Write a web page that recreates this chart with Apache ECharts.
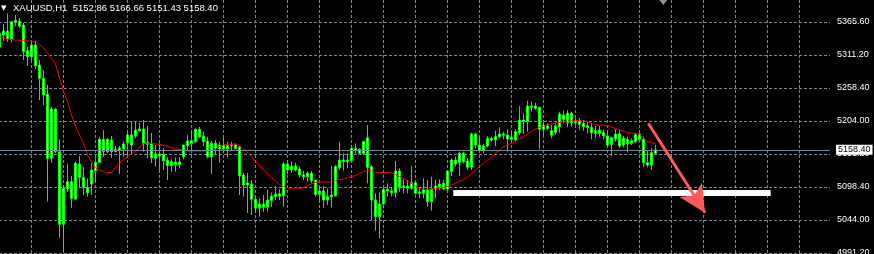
<!DOCTYPE html>
<html><head><meta charset="utf-8">
<script src="https://cdn.jsdelivr.net/npm/echarts@6/dist/echarts.min.js"></script>
<style>html,body{margin:0;padding:0;background:#000;}#c{width:874px;height:254px;}</style>
</head><body><div id="c"></div>
<script>
const symbolName = 'XAUUSD,H1';
// H1 bars, oldest first: [open, close, low, high]
const bars = [
[5325.1,5347.8,5323.5,5352.6],[5351.0,5344.5,5335.3,5362.4],[5338.1,5351.0,5333.7,5379.7],[5337.6,5366.1,5332.1,5367.7],
[5365.6,5368.0,5359.1,5377.0],[5367.2,5359.1,5355.9,5372.1],[5360.7,5317.5,5304.0,5364.5],[5309.4,5319.1,5294.3,5325.6],
[5309.4,5328.3,5304.0,5336.4],[5328.3,5294.8,5289.4,5335.3],[5295.9,5274.4,5239.2,5304.0],[5274.4,5247.3,5231.1,5287.8],
[5248.4,5144.7,5074.3,5263.5],[5144.7,5224.6,5137.1,5228.3],[5224.1,5155.4,5153.3,5226.2],[5155.4,5037.7,5016.0,5175.5],
[5037.7,5096.1,4994.9,5098.7],[5094.9,5106.8,5090.6,5135.4],[5106.8,5079.9,5064.6,5116.0],[5078.7,5136.6,5077.1,5139.2],
[5135.4,5113.9,5097.7,5148.4],[5113.9,5097.7,5085.2,5131.1],[5097.7,5088.9,5082.5,5112.3],[5103.0,5125.7,5085.2,5136.6],
[5124.6,5138.2,5105.1,5144.7],[5138.2,5175.5,5136.6,5179.7],[5175.5,5155.4,5147.3,5190.6],[5155.4,5175.5,5153.3,5177.6],
[5174.4,5155.4,5145.2,5180.8],[5155.4,5159.4,5154.1,5164.6],[5158.1,5161.4,5119.2,5164.7],[5159.8,5167.9,5146.8,5172.7],
[5169.5,5182.5,5145.2,5187.3],[5166.3,5182.5,5150.0,5204.0],[5180.8,5190.6,5177.1,5204.0],[5189.4,5192.2,5187.8,5201.9],
[5192.2,5169.0,5155.4,5206.8],[5170.6,5167.4,5144.7,5197.0],[5169.0,5145.7,5137.1,5185.7],[5144.7,5151.7,5131.1,5166.3],
[5151.7,5148.4,5123.0,5169.0],[5151.2,5140.8,5125.7,5161.4],[5141.9,5132.7,5109.5,5146.3],[5132.7,5139.2,5123.0,5143.1],
[5138.7,5134.3,5123.0,5146.3],[5134.3,5138.7,5128.5,5146.3],[5147.3,5166.3,5143.1,5166.3],[5165.2,5172.7,5158.1,5182.2],
[5169.0,5173.2,5158.1,5187.8],[5171.6,5191.7,5169.0,5193.3],[5191.7,5179.7,5177.1,5195.9],[5180.8,5171.6,5164.6,5187.8],
[5172.7,5147.3,5144.7,5179.7],[5147.3,5169.0,5119.2,5172.7],[5169.0,5160.9,5150.0,5174.4],[5159.8,5166.3,5137.6,5171.6],
[5166.3,5159.8,5152.8,5180.8],[5159.8,5165.2,5146.3,5171.6],[5164.6,5166.3,5158.1,5171.6],[5166.3,5160.9,5159.4,5169.0],
[5162.5,5116.0,5085.2,5164.6],[5117.6,5101.4,5082.5,5121.3],[5101.4,5104.7,5056.0,5120.9],[5103.0,5078.2,5052.8,5109.5],
[5078.2,5063.7,5055.5,5085.2],[5063.7,5070.6,5050.0,5079.9],[5070.6,5065.3,5058.1,5085.2],[5065.3,5077.1,5058.1,5094.4],
[5076.0,5083.6,5066.0,5088.9],[5082.5,5086.8,5077.1,5099.8],[5086.8,5083.6,5077.1,5094.4],[5084.1,5135.4,5066.0,5139.2],
[5135.4,5125.7,5119.2,5141.9],[5125.7,5132.2,5121.3,5139.2],[5132.2,5125.7,5123.0,5137.6],[5127.3,5117.6,5113.9,5131.1],
[5117.6,5114.9,5109.5,5124.6],[5114.9,5120.4,5106.8,5123.0],[5120.4,5108.4,5104.2,5124.1],[5109.5,5086.3,5082.5,5110.6],
[5086.3,5091.7,5077.1,5098.7],[5091.7,5077.1,5063.7,5099.8],[5077.1,5082.5,5069.0,5096.1],[5082.5,5085.2,5065.3,5132.2],
[5084.1,5131.1,5082.5,5133.8],[5129.5,5141.9,5125.7,5171.6],[5141.9,5139.2,5124.6,5152.8],[5139.2,5141.9,5128.5,5152.8],
[5140.8,5160.9,5139.2,5166.3],[5160.9,5157.0,5152.8,5169.0],[5159.4,5152.8,5150.0,5160.9],[5152.8,5171.6,5150.0,5173.2],
[5178.1,5130.1,5104.2,5198.7],[5131.1,5077.1,5044.7,5133.8],[5077.1,5050.0,5027.3,5088.0],[5050.0,5070.6,5015.0,5088.9],
[5070.6,5094.4,5063.7,5097.7],[5094.4,5091.7,5082.5,5104.2],[5092.2,5088.9,5082.5,5097.7],[5088.9,5124.1,5080.8,5140.3],
[5124.1,5097.7,5090.6,5128.5],[5097.7,5099.8,5088.0,5110.6],[5099.8,5096.1,5088.0,5109.5],[5096.1,5105.1,5093.3,5132.2],
[5105.1,5088.0,5086.3,5106.8],[5088.0,5090.1,5079.9,5096.1],[5088.0,5094.4,5079.9,5112.3],[5094.4,5074.3,5066.0,5109.5],
[5074.3,5094.4,5059.8,5114.9],[5094.4,5099.8,5079.9,5109.5],[5097.7,5103.0,5093.3,5110.6],[5104.2,5094.9,5093.3,5109.5],
[5094.9,5124.1,5090.6,5124.1],[5123.0,5141.9,5116.0,5144.7],[5141.9,5135.4,5131.1,5147.3],[5137.6,5152.8,5116.0,5155.4],
[5152.8,5139.2,5136.6,5155.4],[5140.3,5130.1,5125.7,5144.7],[5130.1,5184.1,5125.7,5186.2],[5184.1,5166.3,5160.9,5186.2],
[5166.3,5157.0,5155.4,5180.8],[5157.0,5164.7,5152.8,5167.9],[5164.7,5177.1,5162.5,5180.8],[5177.1,5174.4,5171.6,5179.7],
[5174.4,5179.7,5164.6,5189.4],[5179.7,5184.1,5177.1,5194.9],[5184.1,5182.2,5175.5,5187.8],[5182.5,5176.0,5155.4,5191.7],
[5175.5,5178.7,5169.0,5187.8],[5174.4,5187.8,5171.6,5191.7],[5186.2,5206.8,5182.5,5229.4],[5206.8,5204.0,5184.1,5217.6],
[5204.0,5229.4,5187.8,5238.0],[5229.4,5227.3,5220.2,5236.4],[5225.7,5229.4,5223.0,5234.8],[5227.3,5191.7,5159.4,5228.3],
[5191.7,5198.7,5182.5,5202.4],[5198.7,5193.3,5190.6,5201.4],[5189.4,5182.2,5177.1,5198.7],[5186.8,5197.0,5182.5,5201.4],
[5195.9,5216.5,5186.2,5220.2],[5214.9,5207.9,5201.4,5221.8],[5202.4,5217.6,5194.9,5223.0],[5217.6,5202.4,5195.9,5220.2],
[5202.4,5205.6,5198.7,5209.5],[5205.1,5199.8,5190.6,5209.5],[5201.4,5195.9,5189.4,5206.8],[5197.5,5194.3,5185.2,5204.0],
[5194.9,5186.2,5175.5,5201.4],[5185.2,5189.4,5177.1,5197.0],[5190.6,5185.2,5179.7,5197.0],[5186.2,5180.8,5175.5,5191.7],
[5180.8,5166.3,5164.6,5187.8],[5167.4,5178.1,5148.4,5179.7],[5176.0,5184.1,5171.6,5191.7],[5184.1,5164.7,5160.9,5190.6],
[5166.3,5177.1,5162.5,5180.8],[5175.5,5167.9,5153.8,5179.7],[5169.0,5173.2,5166.3,5177.1],[5171.6,5183.6,5169.0,5185.2],
[5184.1,5175.5,5174.4,5186.2],[5175.5,5137.6,5130.1,5179.7],[5137.6,5133.8,5130.1,5158.1],[5133.8,5153.8,5125.7,5160.9],
[5152.86,5158.40,5151.43,5166.66]
];
// moving average (red line), one value per bar
const maValues = [
5341.3,5339.7,5338.1,5337.2,5336.4,5336.0,5335.3,5334.8,5334.3,5334.0,
5329.1,5323.5,5315.3,5307.2,5297.5,5274.8,5253.8,5236.0,5214.9,5197.0,
5182.5,5169.5,5150.0,5138.7,5129.0,5124.9,5123.3,5121.3,5121.3,5129.8,
5137.1,5142.7,5147.6,5151.7,5155.7,5163.0,5168.7,5169.0,5168.7,5167.9,
5167.4,5165.4,5163.8,5161.4,5159.8,5158.9,5157.3,5156.5,5156.5,5156.5,
5156.5,5156.5,5156.5,5157.3,5158.9,5163.8,5166.3,5167.4,5167.9,5167.4,
5165.4,5160.6,5154.9,5146.8,5139.5,5133.0,5125.7,5120.1,5113.6,5107.9,
5102.2,5099.0,5097.0,5095.4,5094.4,5095.7,5097.4,5099.8,5103.0,5105.5,
5106.3,5106.3,5106.3,5106.3,5107.9,5110.3,5111.1,5113.6,5115.2,5116.8,
5120.1,5123.3,5124.9,5124.1,5122.0,5121.7,5121.7,5121.7,5120.9,5118.4,
5115.2,5111.9,5107.9,5103.8,5099.8,5095.7,5094.1,5094.1,5094.9,5095.7,
5096.1,5097.4,5099.0,5101.4,5104.7,5107.1,5110.3,5113.6,5119.2,5125.7,
5131.4,5137.1,5141.9,5146.0,5153.3,5158.1,5163.8,5166.3,5169.5,5171.9,
5176.0,5180.0,5184.1,5188.1,5192.2,5194.6,5196.2,5197.8,5200.3,5201.9,
5202.7,5203.5,5205.1,5205.6,5205.6,5205.6,5205.1,5203.5,5201.4,5199.5,
5198.7,5198.2,5197.5,5195.4,5193.0,5190.6,5188.5,5186.5,5185.7,5184.9,
5182.5,5177.6,5171.6,5170.0,5168.7
];
const priceTicks = ['4991.20','5044.00','5098.40','5151.20','5204.00','5258.40','5311.20','5365.60'];
const priceRange = [4989.57, 5401.26];
const barRange = [0.125, 207.625];
const lastBar = bars[bars.length - 1];
const lastClose = lastBar[1];
// drawn objects, in (bar, price) coordinates
const supportLine = { fromBar: 113.45, toBar: 192.8, price: 5088.4 };
const arrowLine = { fromBar: 162.2, fromPrice: 5201.4, toBar: 176.4, toPrice: 5056.5 };
const shiftMarker = { bar: 165.95, price: 5397.2 };

const candleData = bars.map((b, k) => [k, b[0], b[1], b[2], b[3]]);
const maData = maValues.map((v, k) => [k, v]);
const headerText = symbolName + '  ' + [lastBar[0], lastBar[3], lastBar[2], lastBar[1]].map(v => v.toFixed(2)).join(' ');

const grid = '#778899';
const chart = echarts.init(document.getElementById('c'), null, { renderer: 'canvas' });
chart.setOption({
  backgroundColor: '#000000',
  animation: false,
  title: {
    text: '{t|▼}{s|' + headerText + '}',
    left: 1, top: 3, padding: 0,
    textStyle: { rich: {
      t: { fontSize: 7, color: '#ffffff', width: 12, fontFamily: 'DejaVu Sans', fontWeight: 'normal' },
      s: { fontSize: 9.5, color: '#ffffff', fontFamily: 'Liberation Sans', fontWeight: 'normal' }
    } }
  },
  grid: [
    { left: -1, top: 0, width: 831, height: 254, outerBoundsMode: 'none', containLabel: false },
    { left: -1, top: 22, width: 831, height: 231, outerBoundsMode: 'none', containLabel: false },
    { left: 0, top: 0, width: 830, height: 254, outerBoundsMode: 'none', containLabel: false }
  ],
  xAxis: [
    { gridIndex: 0, type: 'value', min: 0, max: 831, interval: 32,
      axisLine: { show: false }, axisTick: { show: false }, axisLabel: { show: false },
      splitLine: { show: true, showMinLine: false, showMaxLine: false, lineStyle: { color: grid, width: 1, type: [3, 2] } } },
    { gridIndex: 1, type: 'value', min: 0, max: 1, show: false },
    { gridIndex: 2, type: 'value', min: barRange[0], max: barRange[1], show: false }
  ],
  yAxis: [
    { gridIndex: 0, type: 'value', min: 0, max: 1, position: 'right',
      axisLine: { show: true, lineStyle: { color: '#ffffff', width: 1 } },
      axisTick: { show: false }, axisLabel: { show: false }, splitLine: { show: false } },
    { gridIndex: 1, type: 'category', data: priceTicks, boundaryGap: false, position: 'right',
      axisLine: { show: false }, axisTick: { show: false },
      axisLabel: { interval: 0, color: '#ffffff', fontSize: 9, fontFamily: 'Liberation Sans', margin: 7,
        verticalAlign: 'middle', verticalAlignMinLabel: 'middle', verticalAlignMaxLabel: 'middle' },
      splitLine: { show: true, interval: 0, lineStyle: { color: grid, width: 1, type: [3, 2] } } },
    { gridIndex: 2, type: 'value', min: priceRange[0], max: priceRange[1], show: false, scale: true }
  ],
  series: [
    { type: 'line', xAxisIndex: 2, yAxisIndex: 2, data: [], z: 1,
      markLine: { silent: true, symbol: 'none', animation: false,
        lineStyle: { color: grid, type: 'solid', width: 1 },
        label: { show: true, position: 'end', distance: 6, formatter: () => lastClose.toFixed(2),
          color: '#000000', backgroundColor: '#ffffff', fontSize: 9, fontFamily: 'Liberation Sans', padding: [1, 2, 0, 2] },
        emphasis: { disabled: true },
        data: [{ yAxis: lastClose }] } },
    { type: 'candlestick', xAxisIndex: 2, yAxisIndex: 2, data: candleData, z: 2,
      encode: { x: 0, y: [1, 2, 3, 4] }, barWidth: 3,
      itemStyle: { color: '#ffffff', color0: '#ffffff', borderColor: '#00ff00', borderColor0: '#00ff00', borderColorDoji: '#00ff00', borderWidth: 1 } },
    { type: 'line', xAxisIndex: 2, yAxisIndex: 2, data: maData, z: 3, symbol: 'none',
      lineStyle: { color: '#ff0000', width: 1 } },
    { type: 'line', xAxisIndex: 2, yAxisIndex: 2, data: [], z: 4,
      markLine: { silent: true, symbol: 'none', animation: false, label: { show: false },
        emphasis: { disabled: true },
        data: [
          [ { coord: [supportLine.fromBar, supportLine.price], lineStyle: { color: '#ffffff', width: 6, type: 'solid' } },
            { coord: [supportLine.toBar, supportLine.price] } ],
          [ { coord: [arrowLine.fromBar, arrowLine.fromPrice], lineStyle: { color: '#ff5a5a', width: 3, type: 'solid' } },
            { coord: [arrowLine.toBar, arrowLine.toPrice], symbol: 'arrow', symbolSize: [20, 27] } ]
        ] },
      markPoint: { silent: true, symbol: 'triangle', symbolSize: [8, 5], symbolRotate: 180,
        itemStyle: { color: '#8a949f' }, label: { show: false },
        data: [{ coord: [shiftMarker.bar, shiftMarker.price] }] } }
  ]
});
</script></body></html>
